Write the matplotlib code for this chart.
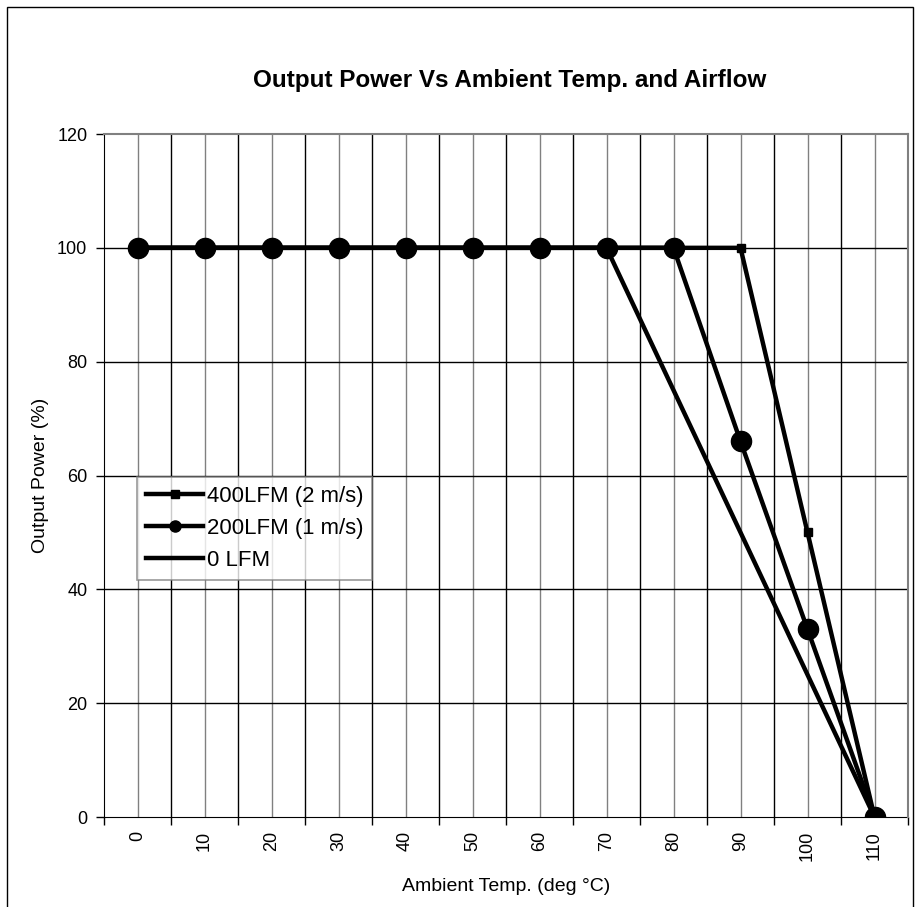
import matplotlib
matplotlib.use("Agg")
import matplotlib.pyplot as plt
from matplotlib.lines import Line2D
from matplotlib.patches import Rectangle

plt.rcParams['font.family'] = ['Liberation Sans', 'DejaVu Sans']

# Data
temps = [0, 10, 20, 30, 40, 50, 60, 70, 80, 90, 100, 110]
lfm400 = [100, 100, 100, 100, 100, 100, 100, 100, 100, 100, 50, 0]
lfm200 = [100, 100, 100, 100, 100, 100, 100, 100, 100, 66, 33, 0]
lfm0_temps = [0, 10, 20, 30, 40, 50, 60, 70, 110]
lfm0 = [100, 100, 100, 100, 100, 100, 100, 100, 0]
labels = ['400LFM (2 m/s)', '200LFM (1 m/s)', '0 LFM']

fig = plt.figure(figsize=(9.18, 9.07), dpi=100)
# outer chart border
fig.patches.append(Rectangle((7 / 918, -0.01), 906 / 918, 1 - 7 / 907 + 0.01,
                             transform=fig.transFigure, fill=False,
                             edgecolor='black', linewidth=1))
ax = fig.add_axes([104 / 918, 1 - 817 / 907, 804 / 918, 683 / 907])

idx = list(range(len(temps)))
idx0 = [temps.index(t) for t in lfm0_temps]

ax.plot(idx0, lfm0, color='black', lw=3.2, solid_capstyle='round', zorder=3)
ax.plot(idx, lfm200, color='black', lw=3.2, marker='o', markersize=14.5, zorder=4)
ax.plot(idx, lfm400, color='black', lw=3.2, marker='s', markersize=6, zorder=5)

ax.set_xlim(-0.5, len(temps) - 0.5)
ax.set_ylim(0, 120)
ax.set_yticks(range(0, 121, 20))

# gray lines at categories, black at category boundaries
for i in idx:
    ax.axvline(i, color='#808080', lw=1, zorder=1)
for i in range(1, len(temps)):
    ax.axvline(i - 0.5, color='black', lw=1, zorder=1)
for y in range(20, 120, 20):
    ax.axhline(y, color='black', lw=1, zorder=1)

ax.set_xticks([i - 0.5 for i in range(len(temps) + 1)])
ax.set_xticklabels([])
ax.set_xticks(idx, minor=True)
ax.set_xticklabels([str(t) for t in temps], minor=True, rotation=90, fontsize=13)
ax.tick_params(axis='x', which='major', direction='out', length=6, width=1)
ax.tick_params(axis='x', which='minor', length=0, pad=10)
ax.tick_params(axis='y', direction='out', length=6, width=1, labelsize=13, pad=6)

ax.spines['top'].set_color('#808080')
ax.spines['right'].set_color('#808080')
ax.spines['top'].set_linewidth(1.5)
ax.spines['right'].set_linewidth(1.5)
ax.spines['top'].set_zorder(6)
ax.spines['right'].set_zorder(6)

ax.set_xlabel('Ambient Temp. (deg °C)', fontsize=14, labelpad=12)
ax.set_ylabel('Output Power (%)', fontsize=14, labelpad=6)
fig.text(0.555, 1 - 81 / 907, 'Output Power Vs Ambient Temp. and Airflow',
         ha='center', va='center', fontsize=17.5, fontweight='bold')

handles = [
    Line2D([], [], color='black', lw=3.2, marker='s', markersize=6),
    Line2D([], [], color='black', lw=3.2, marker='o', markersize=8),
    Line2D([], [], color='black', lw=3.2),
]
leg = ax.legend(handles, labels, loc='upper left',
                bbox_to_anchor=(33 / 804, (817 - 477) / 683),
                fontsize=15.9, frameon=True, fancybox=False, edgecolor='#808080',
                handlelength=2.6, handletextpad=0.15, borderpad=0.4,
                labelspacing=0.5, borderaxespad=0)
leg.get_frame().set_linewidth(1.2)
leg.set_zorder(10)

fig.savefig('out.png', dpi=100)
